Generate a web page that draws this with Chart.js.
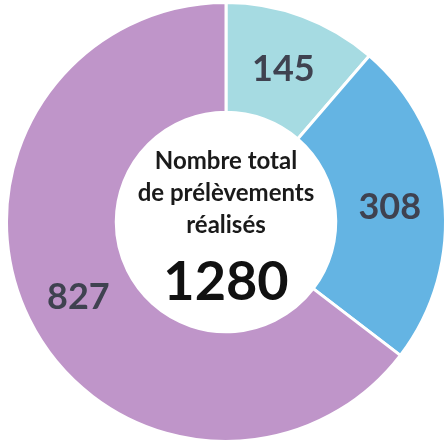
<!DOCTYPE html>
<html>
<head>
<meta charset="utf-8">
<script src="https://cdn.jsdelivr.net/npm/chart.js@4.4.0/dist/chart.umd.min.js"></script>
<style>
  html, body { margin: 0; padding: 0; background: #fff; overflow: hidden; }
  #wrap { position: absolute; left: 0; top: 0; width: 452px; height: 444px; }
</style>
</head>
<body>
<div id="wrap"><canvas id="myChart"></canvas></div>
<script>
const categories = ["Catégorie 1", "Catégorie 2", "Catégorie 3"]
const values = [145, 308, 827]
const colors = ["#a6dbe2", "#64b4e3", "#bf95c9"]
const centerLines = ["Nombre total", "de prélèvements", "réalisés"]

const total = values.reduce((a, b) => a + b, 0)

// numbers on each slice + the total in the hole
const labelsPlugin = {
  id: "sliceLabels",
  afterDatasetsDraw(chart) {
    const ctx = chart.ctx
    const meta = chart.getDatasetMeta(0)
    ctx.save()
    ctx.textAlign = "center"
    ctx.textBaseline = "middle"
    ctx.fillStyle = "#3f4250"
    ctx.font = "bold 36px Lato"
    meta.data.forEach((arc, i) => {
      const p = arc.tooltipPosition()
      ctx.fillText(values[i], p.x, p.y + 2)
    })

    const cx = meta.data[0].x
    const cy = meta.data[0].y
    ctx.fillStyle = "#1a1a1a"
    ctx.font = "bold 24px Lato"
    centerLines.forEach((line, i) => {
      ctx.fillText(line, cx, cy - 61 + i * 32)
    })
    ctx.fillStyle = "#111"
    ctx.font = "bold 54px Lato"
    ctx.fillText(total, cx, cy + 61)
    ctx.restore()
  }
}

const config = {
  type: "doughnut",
  data: {
    labels: categories,
    datasets: [{
      data: values,
      backgroundColor: colors,
      borderColor: "#ffffff",
      borderWidth: 3,
      hoverOffset: 0
    }]
  },
  options: {
    responsive: true,
    maintainAspectRatio: false,
    animation: false,
    cutout: "50%",
    layout: { padding: 1 },
    plugins: {
      legend: { display: false },
      tooltip: { enabled: false }
    }
  },
  plugins: [labelsPlugin]
}

const myChart = new Chart(document.getElementById("myChart"), config)
</script>
</body>
</html>
